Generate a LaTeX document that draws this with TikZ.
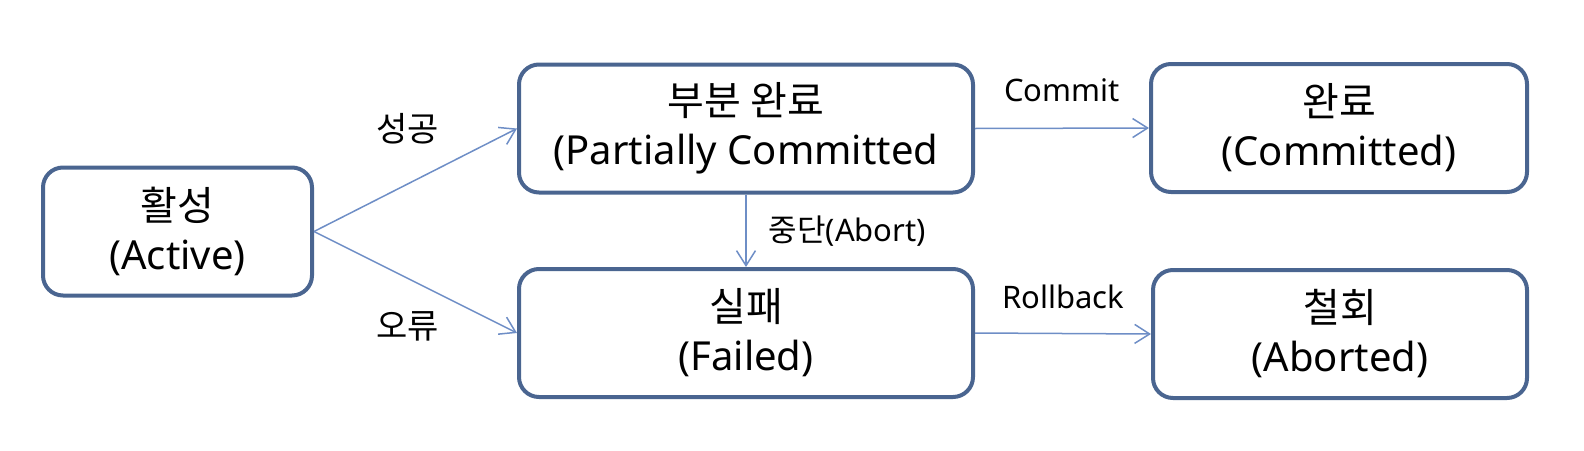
\documentclass[tikz,border=0pt]{standalone}
\usepackage{fontspec}
\setmainfont{Noto Sans}
\newfontfamily\kr{Noto Sans CJK KR}
\usepackage{tikz}
\usetikzlibrary{arrows.meta}
\usetikzlibrary{positioning}
\definecolor{boxline}{HTML}{4A6590}
\definecolor{arrline}{HTML}{6E8EC6}
\tikzset{
	state/.style={draw=boxline, line width=4pt, rounded corners=20pt, align=center,
		inner sep=0pt, minimum height=128pt, font=\fontsize{40}{49}\selectfont},
	trans/.style={draw=arrline, line width=1.5pt, -{Straight Barb[length=15pt,width=19pt]}},
	tlabel/.style={inner sep=0pt, font=\fontsize{31}{36}\selectfont}
}
\begin{document}
\begin{tikzpicture}[x=1pt,y=-1pt]
						\useasboundingbox (0,0) rectangle (1584,450);
						% states
						\node[state, minimum width=269pt] (act) at (177.5,231.5) {{\kr 활성}\\(Active)};
						\node[state, minimum width=454pt] (part) at (746,128.5) {{\kr 부분 완료}\\(Partially Committed};
						\node[state, minimum width=376pt] (comm) at (1339,128) {{\kr 완료}\\(Committed)};
						\node[state, minimum width=454pt] (fail) at (746,333) {{\kr 실패}\\(Failed)};
						\node[state, minimum width=374pt] (abrt) at (1340,334) {{\kr 철회}\\(Aborted)};
						% transitions
						\draw[trans] (act.east) -- node[tlabel, midway, above=35pt, xshift=-8pt] {\kr\fontsize{34}{36}\selectfont 성공} (part.west);
						\draw[trans] (act.east) -- node[tlabel, midway, below=29pt, xshift=-8pt] {\kr\fontsize{34}{36}\selectfont 오류} (fail.west);
						\draw[trans] (part.east) -- node[tlabel, midway, above=26pt] {Commit} (comm.west);
						\draw[trans] (fail.east) -- node[tlabel, midway, above=24pt] {Rollback} (abrt.west);
						\draw[trans] (part.south) -- node[tlabel, midway, right=22pt] {{\kr 중단}(Abort)} (fail.north);
					\end{tikzpicture}
\end{document}
